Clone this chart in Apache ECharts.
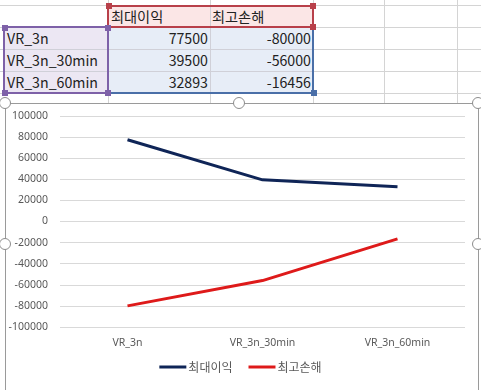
<!DOCTYPE html>
<html><head><meta charset="utf-8">
<script src="https://cdn.jsdelivr.net/npm/echarts@6/dist/echarts.min.js"></script>
<style>
html,body{margin:0;padding:0;width:481px;height:390px;overflow:hidden;background:#fff;}
.gl{position:absolute;background:#d4d4d4;}
.cell{position:absolute;box-sizing:border-box;font-size:14.2px;line-height:22px;color:#222;white-space:nowrap;font-family:"Noto Sans CJK KR","Noto Sans",sans-serif;}
.sq{position:absolute;width:6px;height:6px;z-index:2;}
.hd{position:absolute;width:10px;height:10px;border:1.5px solid #8c8c8c;border-radius:50%;background:#fff;z-index:5;}
</style></head>
<body>
<div id="sheet"></div>
<div id="frame" style="position:absolute;left:5px;top:103px;width:472px;height:300px;border:1px solid #9a9a9a;background:#fff;"></div>
<div id="chart" style="position:absolute;left:0;top:0;width:481px;height:390px;z-index:3;"></div>
<div class="hd" style="left:-1px;top:97px"></div>
<div class="hd" style="left:233px;top:97px"></div>
<div class="hd" style="left:472px;top:97px"></div>
<div class="hd" style="left:-1px;top:238px"></div>
<div class="hd" style="left:472px;top:238px"></div>
<script>
const seriesNames = ['최대이익', '최고손해'];
const categories = ['VR_3n', 'VR_3n_30min', 'VR_3n_60min'];
const maxProfit = [77500, 39500, 32893];
const maxLoss = [-80000, -56000, -16456];

// Spreadsheet background (table above the chart)
const sheet = document.getElementById('sheet');
function add(cls, style, text){const d=document.createElement('div');d.className=cls;d.setAttribute('style',style);if(text!==undefined)d.textContent=text;sheet.appendChild(d);return d;}
[5,27,49,71,93].forEach(y=>add('gl',`left:0;top:${y}px;width:481px;height:1px`));
[108,210,313,384,457].forEach(x=>add('gl',`left:${x}px;top:0;width:1px;height:103px`));
// fills
add('cell','left:108px;top:5px;width:205px;height:22px;background:#fbe6e6;');
add('cell','left:4px;top:27px;width:104px;height:66px;background:#ece7f3;');
add('cell','left:108px;top:27px;width:205px;height:66px;background:#e7edf7;');
[27,49,71].forEach(y=>add('gl',`left:0;top:${y}px;width:313px;height:1px;background:#d0d0d8`));
add('gl','left:210px;top:5px;width:1px;height:88px;background:#d0d0d8');
// text
add('cell','left:111px;top:5px;','최대이익');
add('cell','left:212px;top:5px;','최고손해');
categories.forEach((c,i)=>{
  add('cell',`left:7px;top:${27+i*22}px;`,c);
  add('cell',`left:108px;top:${27+i*22}px;width:100px;text-align:right;`,String(maxProfit[i]));
  add('cell',`left:210px;top:${27+i*22}px;width:101px;text-align:right;`,String(maxLoss[i]));
});
// range borders
add('cell','left:107px;top:5px;width:207px;height:23px;border:2px solid #b8404a;');
add('cell','left:3px;top:26px;width:106px;height:68px;border:2px solid #7e61a8;');
add('cell','left:108px;top:27px;width:206px;height:67px;border:2px solid #4a6fa8;border-left:none;border-top:none;');
[[106,3,'#b8404a'],[310,3,'#b8404a'],[310,24,'#b8404a'],[2,25,'#7e61a8'],[105,25,'#7e61a8'],[2,90,'#7e61a8'],[105,90,'#7e61a8'],[311,90,'#4a6fa8']]
  .forEach(p=>add('sq',`left:${p[0]}px;top:${p[1]}px;background:${p[2]}`));

const chart = echarts.init(document.getElementById('chart'));
const font = '"Noto Sans CJK KR","Noto Sans",sans-serif';
chart.setOption({
  animation:false,
  grid:{left:60, top:116, width:405, height:211},
  legend:{
    data:seriesNames, bottom:12, left:'center', itemWidth:27, itemHeight:3, itemGap:16,
    icon:'rect',
    textStyle:{fontSize:12, color:'#595959', fontFamily:font, padding:[0,0,0,-3]}
  },
  xAxis:{
    type:'category', data:categories, boundaryGap:true,
    axisLine:{show:false}, axisTick:{show:false},
    axisLabel:{color:'#595959', fontSize:10.5, fontFamily:'"Noto Sans",sans-serif', margin:11}
  },
  yAxis:{
    type:'value', min:-100000, max:100000, interval:20000,
    axisLine:{show:false}, axisTick:{show:false},
    splitLine:{lineStyle:{color:'#d9d9d9', width:1}},
    axisLabel:{color:'#595959', fontSize:10.5, fontFamily:'"Noto Sans",sans-serif', margin:12, formatter:v=>String(v)}
  },
  series:[
    {name:seriesNames[0], type:'line', data:maxProfit, symbol:'none', color:'#0f2557', lineStyle:{width:3, color:'#0f2557'}},
    {name:seriesNames[1], type:'line', data:maxLoss, symbol:'none', color:'#de1a1a', lineStyle:{width:3, color:'#de1a1a'}}
  ]
});
</script>
</body></html>
